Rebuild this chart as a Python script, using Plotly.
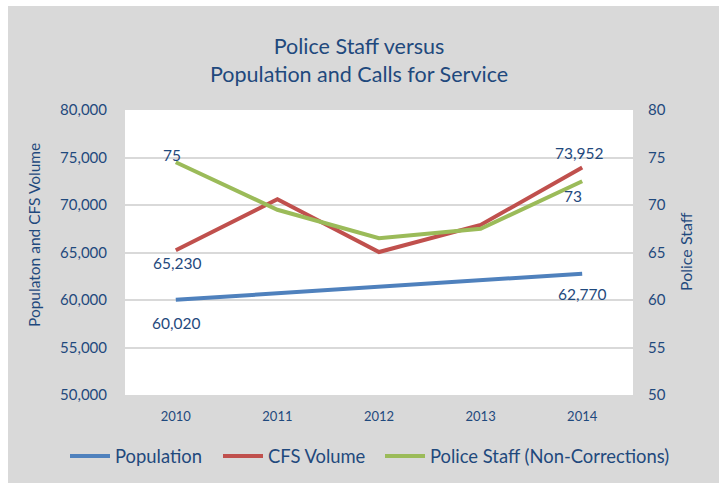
import math
import plotly.graph_objects as go

years = ["2010", "2011", "2012", "2013", "2014"]
population = [60020, 60700, 61450, 62100, 62770]
cfs_volume = [65230, 70600, 65050, 67900, 73952]
police_staff = [74.5, 69.5, 66.5, 67.5, 72.5]

left_ticks = [50000, 55000, 60000, 65000, 70000, 75000, 80000]
right_ticks = [50, 55, 60, 65, 70, 75, 80]

TXT = "#1F497D"
FONT = "Lato"

W, H = 719, 485
L, R, T, B = 125, 633, 110, 395


def px_x(px):
    return (px - L) / (R - L)


def px_y(py):
    return (B - py) / (B - T)


fig = go.Figure()
fig.add_trace(go.Scatter(x=years, y=population, name="Population", mode="lines",
                         legend="legend",
                         line=dict(color="#4F81BD", width=4)))
fig.add_trace(go.Scatter(x=years, y=cfs_volume, name="CFS Volume", mode="lines",
                         legend="legend2",
                         line=dict(color="#C0504D", width=4)))
fig.add_trace(go.Scatter(x=years, y=police_staff, name="Police Staff (Non-Corrections)",
                         mode="lines", yaxis="y2", legend="legend3",
                         line=dict(color="#9BBB59", width=4)))


def fmt_int(v):
    return f"{int(math.floor(v + 0.5)):,}"


# data labels (first and last points); shifts are styling only
label_specs = [
    (population, "y", 0, 0, -23),
    (population, "y", 4, 0, -20),
    (cfs_volume, "y", 0, 1, -13),
    (cfs_volume, "y", 4, -3, 14),
    (police_staff, "y2", 0, -4, 7),
    (police_staff, "y2", 4, -9, -15),
]
annotations = []
for series, yref, idx, xs, ys in label_specs:
    # x given as category index of years[idx]
    annotations.append(dict(x=idx, y=series[idx], xref="x", yref=yref,
                            text=fmt_int(series[idx]), showarrow=False,
                            xshift=xs, yshift=ys,
                            font=dict(family=FONT, size=15.5, color=TXT)))

annotations.append(dict(text="Police Staff versus<br>Population and Calls for Service",
                        xref="paper", yref="paper", x=px_x(359), y=px_y(60),
                        xanchor="center", yanchor="middle", showarrow=False,
                        font=dict(family=FONT, size=21.5, color=TXT)))
annotations.append(dict(text="Populaton and CFS Volume", textangle=-90,
                        xref="paper", yref="paper", x=px_x(34), y=px_y(235),
                        xanchor="center", yanchor="middle", showarrow=False,
                        font=dict(family=FONT, size=15.5, color=TXT)))
annotations.append(dict(text="Police Staff", textangle=-90,
                        xref="paper", yref="paper", x=px_x(685), y=px_y(252),
                        xanchor="center", yanchor="middle", showarrow=False,
                        font=dict(family=FONT, size=16, color=TXT)))

shapes = [
    dict(type="rect", xref="paper", yref="paper", layer="below",
         x0=px_x(8), x1=px_x(725), y0=px_y(483), y1=px_y(6),
         fillcolor="#D9D9D9", line=dict(width=0)),
    dict(type="rect", xref="paper", yref="paper", layer="below",
         x0=0, x1=1, y0=0, y1=1, fillcolor="white", line=dict(width=0)),
]


def legend_at(px_left):
    return dict(orientation="h", x=px_x(px_left), y=px_y(456), xanchor="left",
                yanchor="middle", bgcolor="rgba(0,0,0,0)", itemwidth=40,
                font=dict(family=FONT, size=18.4, color=TXT))


fig.update_layout(
    width=W, height=H,
    margin=dict(l=L, r=W - R, t=T, b=H - B, autoexpand=False),
    paper_bgcolor="white", plot_bgcolor="white",
    font=dict(family=FONT, color=TXT),
    showlegend=True,
    legend=legend_at(65),
    legend2=legend_at(218),
    legend3=legend_at(380),
    xaxis=dict(type="category", categoryorder="array", categoryarray=years,
               range=[-0.5, 4.5], showgrid=False, zeroline=False, showline=False,
               ticks="outside", ticklen=9, tickcolor="rgba(0,0,0,0)",
               tickfont=dict(family=FONT, size=13, color=TXT)),
    yaxis=dict(range=[50000, 80000], tickvals=left_ticks, tickformat=",",
               showgrid=True, gridcolor="#D9D9D9", gridwidth=1.5, zeroline=False,
               showline=False, ticks="outside", ticklen=14,
               tickcolor="rgba(0,0,0,0)",
               tickfont=dict(family=FONT, size=15, color=TXT)),
    yaxis2=dict(range=[50, 80], tickvals=right_ticks, overlaying="y", side="right",
                showgrid=False, zeroline=False, showline=False,
                ticks="outside", ticklen=11, tickcolor="rgba(0,0,0,0)",
                tickfont=dict(family=FONT, size=15, color=TXT)),
    annotations=annotations,
    shapes=shapes,
)

fig.write_html("out.html")
